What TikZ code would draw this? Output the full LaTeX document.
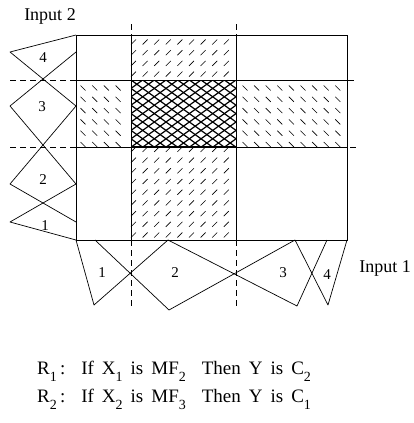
\documentclass[tikz,border=0pt]{standalone}
\usepackage{fontspec}
\setmainfont{Liberation Serif}
\usepackage{tikz}
\usetikzlibrary{calc}

\newcommand{\lowidx}[1]{\raisebox{-7pt}{\fontsize{14}{14}\selectfont #1}}
\newcommand{\rulefont}{\fontsize{19}{19}\selectfont\spaceskip 8pt\relax}

\tikzset{
  boxline/.style={line width=0.8pt},
  guideline/.style={line width=0.7pt, dash pattern=on 6pt off 4pt},
  mfline/.style={line width=0.7pt, line join=round},
  hatchmark/.style={line width=0.6pt},
  meshline/.style={line width=1.2pt},
  mflabel/.style={font=\fontsize{15}{15}\selectfont, inner sep=0pt},
  inputlabel/.style={font=\fontsize{18}{18}\selectfont, inner sep=0pt},
  rulelabel/.style={font=\rulefont, inner sep=0pt, anchor=base west},
}

\begin{document}
\begin{tikzpicture}[x=1pt, y=-1pt]
\useasboundingbox (0,0) rectangle (414,423);

% slashes in the middle column
\foreach \i in {0,...,8}{
  \foreach \j in {0,...,3}
    \draw[hatchmark, shift={(133.5+11.6*\i,42+10.7*\j)}] (-2.5,2.5) -- (2.5,-2.5);
  \foreach \j in {0,...,8}
    \draw[hatchmark, shift={(133.5+11.6*\i,149.4+10.7*\j)}] (-2.5,2.5) -- (2.5,-2.5);
}
% back slashes in the middle row
\foreach \j in {0,...,5}{
  \foreach \i in {0,...,3}
    \draw[hatchmark, shift={(83+11.7*\i,88+11.3*\j)}] (-2.5,-2.5) -- (2.5,2.5);
  \foreach \i in {0,...,8}
    \draw[hatchmark, shift={(245+11.6*\i,88+11.3*\j)}] (-2.5,-2.5) -- (2.5,2.5);
}
% crossed cell
\begin{scope}
  \clip (131,80) rectangle (236,147);
  \foreach \k in {-9,...,18}
    \draw[meshline] (131+11.67*\k,80) -- ++(93.1,67)
                    (131+11.67*\k,80) -- ++(-93.1,67);
\end{scope}

% dashed guides
\draw[guideline] (10,80) -- (76,80);
\draw[guideline] (10,147) -- (358,147);
\draw[guideline] (131,24) -- (131,35);
\draw[guideline] (236,24) -- (236,35);
\draw[guideline] (131,240) -- (131,308);
\draw[guideline] (236,240) -- (236,308);

% grid
\draw[boxline] (76,35) rectangle (347,240);
\draw[boxline] (131,35) -- (131,240);
\draw[boxline] (236,35) -- (236,240);
\draw[boxline] (76,80) -- (354,80);
\draw[boxline] (76,147) -- (347,147);
\draw[line width=1.6pt] (131,147) -- (236,147);

% membership functions of input 2
\draw[mfline] (76,240) -- (10,222) -- (76,184);
\draw[mfline] (76,222) -- (10,184) -- (76,106);
\draw[mfline] (76,184) -- (10,106) -- (76,52);
\draw[mfline] (76,106) -- (10,52) -- (76,35);
\node[mflabel] (a1) at (45,226) {1};
\node[mflabel] (a2) at (43,180) {2};
\node[mflabel] (a3) at (42,107) {3};
\node[mflabel] (a4) at (43,58) {4};

% membership functions of input 1
\draw[mfline] (76,240) -- (94,305) -- (168,240);
\draw[mfline] (95,240) -- (169,310) -- (295,240);
\draw[mfline] (168,240) -- (297,306) -- (327,240);
\draw[mfline] (295,240) -- (328,305) -- (347,240);
\node[mflabel] (b1) at (102,273) {1};
\node[mflabel] (b2) at (175,273) {2};
\node[mflabel] (b3) at (283,273) {3};
\node[mflabel] (b4) at (327,275) {4};

\node[inputlabel] (in2) at (50,16) {Input 2};
\node[inputlabel] (in1) at (385,268) {Input 1};

% rules
\node[rulelabel] (r1) at (37,374) {R\lowidx{1}\,:\ \ If X\lowidx{1} is MF\lowidx{2}\ \ Then Y is C\lowidx{2}};
\node[rulelabel] (r2) at (37,402) {R\lowidx{2}\,:\ \ If X\lowidx{2} is MF\lowidx{3}\ \ Then Y is C\lowidx{1}};
\end{tikzpicture}
\end{document}
